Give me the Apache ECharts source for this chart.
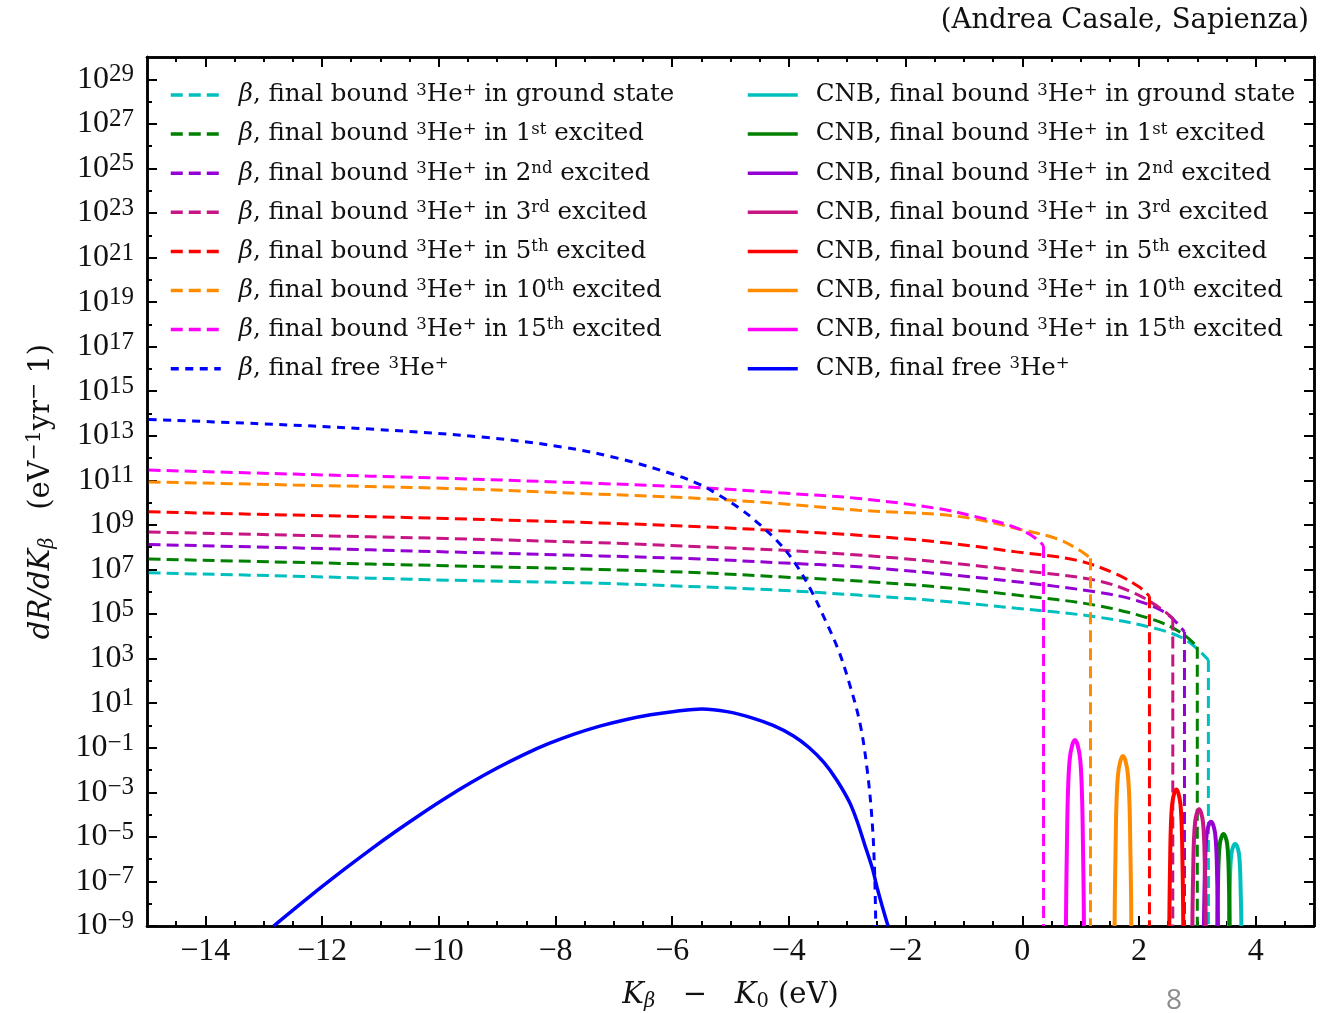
<!DOCTYPE html>
<html>
<head>
<meta charset="utf-8">
<script src="https://cdn.jsdelivr.net/npm/echarts@6/dist/echarts.min.js"></script>
<style>
  html, body { margin: 0; padding: 0; background: #ffffff; }
  #chart { width: 1327px; height: 1013px; }
</style>
</head>
<body>
<div id="chart"></div>
<script>
// x: K_beta - K_0 (eV); y: log10 of dR/dK_beta (eV^-1 yr^-1)

// --- beta decay into bound 3He+ final states ---
const betaGroundK   = [-14.97, -12.48, -9.86, -7.24, -5.51, -4.16, -2.81, -1.46, -0.10, 1.25, 2.27, 2.81, 3.19];
const betaGroundLog = [6.85, 6.70, 6.52, 6.38, 6.22, 6.07, 5.85, 5.60, 5.26, 4.88, 4.36, 3.83, 2.94];

const betaExc1K   = [-14.97, -12.48, -9.86, -7.24, -5.51, -4.16, -2.81, -1.46, -0.10, 1.25, 2.27, 2.74, 3.00];
const betaExc1Log = [7.47, 7.32, 7.17, 7.00, 6.85, 6.67, 6.48, 6.22, 5.85, 5.40, 4.73, 4.13, 3.53];

const betaExc2K   = [-14.97, -12.48, -9.86, -7.24, -5.51, -4.16, -2.81, -1.46, -0.10, 1.25, 1.93, 2.47, 2.78];
const betaExc2Log = [8.12, 7.97, 7.79, 7.61, 7.47, 7.30, 7.12, 6.82, 6.45, 6.00, 5.63, 5.03, 4.20];

const betaExc3K   = [-14.97, -12.48, -9.86, -7.24, -5.51, -4.16, -2.81, -1.46, -0.10, 1.25, 1.93, 2.41, 2.58];
const betaExc3Log = [8.68, 8.54, 8.39, 8.20, 8.02, 7.87, 7.65, 7.35, 6.97, 6.52, 5.93, 5.18, 4.80];

const betaExc5K   = [-14.97, -12.48, -9.86, -7.24, -5.51, -4.16, -2.81, -1.46, -0.10, 0.92, 1.59, 2.00, 2.18];
const betaExc5Log = [9.59, 9.44, 9.29, 9.09, 8.92, 8.74, 8.54, 8.24, 7.79, 7.42, 6.82, 6.22, 5.80];

const betaExc10K   = [-14.97, -12.48, -9.86, -7.24, -5.51, -4.16, -2.81, -1.46, -0.78, -0.10, 0.58, 0.98, 1.17];
const betaExc10Log = [10.93, 10.79, 10.64, 10.38, 10.19, 9.96, 9.66, 9.48, 9.25, 8.84, 8.39, 7.87, 7.50];

const betaExc15K   = [-14.97, -12.48, -9.86, -7.24, -5.51, -4.16, -2.81, -1.46, -0.78, -0.23, 0.10, 0.30, 0.365];
const betaExc15Log = [11.46, 11.28, 11.09, 10.86, 10.67, 10.44, 10.19, 9.74, 9.36, 8.99, 8.62, 8.25, 8.05];

// --- beta decay into free 3He+ ---
const betaFreeK   = [-14.97, -13.14, -11.17, -9.21, -7.89, -6.91, -5.93, -5.51, -5.27, -4.84, -4.50, -4.16, -3.89, -3.62, -3.35, -3.15, -2.98, -2.78, -2.65, -2.57, -2.53, -2.51];
const betaFreeLog = [13.73, 13.55, 13.30, 12.93, 12.50, 11.98, 11.23, 10.80, 10.45, 9.74, 9.02, 8.17, 7.27, 6.07, 4.58, 3.38, 2.04, 0.09, -2.15, -4.40, -6.60, -9.00];

// --- neutrino capture (CNB) into free 3He+ ---
const cnbFreeK = [-12.83, -12.22, -11.61, -11.17, -10.74, -10.30, -9.86, -9.43, -8.99, -8.55, -8.12,
                  -7.68, -7.24, -6.80, -6.37, -5.93, -5.49, -5.06, -4.62, -4.27, -3.92, -3.66, -3.40,
                  -3.18, -2.96, -2.83, -2.70, -2.57, -2.48, -2.39, -2.30];
const cnbFreeLog = [-9.00, -7.69, -6.44, -5.57, -4.76, -3.97, -3.22, -2.54, -1.90, -1.32, -0.82,
                    -0.39, -0.03, 0.26, 0.48, 0.64, 0.74, 0.62, 0.33, 0.00, -0.47, -0.98, -1.66,
                    -2.45, -3.45, -4.30, -5.35, -6.40, -7.35, -8.20, -9.00];

// --- neutrino capture (CNB) peaks into bound 3He+ final states ---
const cnbExc15K   = [0.749, 0.754, 0.766, 0.783, 0.812, 0.857, 0.903, 0.949, 0.994, 1.023, 1.040, 1.052, 1.057];
const cnbExc15Log = [-9.00, -7.54, -5.29, -3.05, -1.55, -0.88, -0.65, -0.88, -1.55, -3.05, -5.29, -7.54, -9.00];

const cnbExc10K   = [1.583, 1.587, 1.599, 1.614, 1.642, 1.683, 1.726, 1.769, 1.810, 1.838, 1.853, 1.865, 1.869];
const cnbExc10Log = [-9.00, -7.66, -5.61, -3.56, -2.19, -1.58, -1.37, -1.58, -2.19, -3.56, -5.61, -7.66, -9.00];

const cnbExc5K   = [2.520, 2.524, 2.533, 2.546, 2.569, 2.604, 2.640, 2.676, 2.711, 2.734, 2.747, 2.756, 2.760];
const cnbExc5Log = [-9.00, -7.93, -6.28, -4.63, -3.53, -3.04, -2.87, -3.04, -3.53, -4.63, -6.28, -7.93, -9.00];

const cnbExc3K   = [2.916, 2.919, 2.929, 2.941, 2.963, 2.996, 3.030, 3.064, 3.097, 3.119, 3.131, 3.141, 3.144];
const cnbExc3Log = [-9.00, -8.08, -6.67, -5.26, -4.33, -3.91, -3.76, -3.91, -4.33, -5.26, -6.67, -8.08, -9.00];

const cnbExc2K   = [3.114, 3.118, 3.127, 3.140, 3.163, 3.198, 3.234, 3.270, 3.305, 3.328, 3.341, 3.350, 3.354];
const cnbExc2Log = [-9.00, -8.18, -6.92, -5.66, -4.83, -4.45, -4.32, -4.45, -4.83, -5.66, -6.92, -8.18, -9.00];

const cnbExc1K   = [3.343, 3.346, 3.355, 3.366, 3.386, 3.417, 3.449, 3.481, 3.512, 3.532, 3.543, 3.552, 3.555];
const cnbExc1Log = [-9.00, -8.28, -7.17, -6.06, -5.32, -4.99, -4.87, -4.99, -5.32, -6.06, -7.17, -8.28, -9.00];

const cnbGroundK   = [3.543, 3.546, 3.555, 3.566, 3.586, 3.617, 3.649, 3.681, 3.712, 3.732, 3.743, 3.752, 3.755];
const cnbGroundLog = [-9.00, -8.36, -7.37, -6.38, -5.72, -5.42, -5.32, -5.42, -5.72, -6.38, -7.37, -8.36, -9.00];

// axis range and tick labels
const xMin = -15, xMax = 5;
const yMin = -9, yMax = 30;          // decades
const xLabelTicks = [-14, -12, -10, -8, -6, -4, -2, 0, 2, 4];
const yLabelTicks = [-9, -7, -5, -3, -1, 1, 3, 5, 7, 9, 11, 13, 15, 17, 19, 21, 23, 25, 27, 29];

// final-state labels, in legend order
const states = ['ground', '1st', '2nd', '3rd', '5th', '10th', '15th'];

// ---------------------------------------------------------------
const COLORS = {
  ground: '#00bfbf', '1st': '#008000', '2nd': '#9400d3', '3rd': '#c71585',
  '5th': '#ff0000', '10th': '#ff8c00', '15th': '#ff00ff', free: '#0000ff'
};

const xMinorTicks = [];
for (let v = xMin + 0.5; v < xMax; v += 0.5) if (xLabelTicks.indexOf(v) < 0) xMinorTicks.push(v);
const yMinorTicks = [];
for (let v = yMin + 1; v < yMax; v += 2) yMinorTicks.push(v);

function zip(ks, ls) { return ks.map((k, i) => [k, ls[i]]); }

const betaSets = {
  ground: [betaGroundK, betaGroundLog], '1st': [betaExc1K, betaExc1Log], '2nd': [betaExc2K, betaExc2Log],
  '3rd': [betaExc3K, betaExc3Log], '5th': [betaExc5K, betaExc5Log], '10th': [betaExc10K, betaExc10Log],
  '15th': [betaExc15K, betaExc15Log]
};
const cnbSets = {
  ground: [cnbGroundK, cnbGroundLog], '1st': [cnbExc1K, cnbExc1Log], '2nd': [cnbExc2K, cnbExc2Log],
  '3rd': [cnbExc3K, cnbExc3Log], '5th': [cnbExc5K, cnbExc5Log], '10th': [cnbExc10K, cnbExc10Log],
  '15th': [cnbExc15K, cnbExc15Log]
};

function stateText(s) { return s === 'ground' ? 'in ground state' : 'in ' + s + ' excited'; }
function betaName(s) { return 'β, final bound 3He+ ' + stateText(s); }
function cnbName(s) { return 'CNB, final bound 3He+ ' + stateText(s); }
const betaFreeName = 'β, final free 3He+';
const cnbFreeName = 'CNB, final free 3He+';

function stateRich(s) {
  if (s === 'ground') return '{t| in ground state}';
  const num = s.match(/\d+/)[0], suf = s.replace(num, '');
  return '{t| in ' + num + '}{s|' + suf + '}{t| excited}';
}
const richNames = {};
states.forEach(s => {
  richNames[betaName(s)] = '{g| }{i|β}{t|, final bound }{s|3}{t|He}{s|+}' + stateRich(s);
  richNames[cnbName(s)] = '{g| }{t|CNB, final bound }{s|3}{t|He}{s|+}' + stateRich(s);
});
richNames[betaFreeName] = '{g| }{i|β}{t|, final free }{s|3}{t|He}{s|+}';
richNames[cnbFreeName] = '{g| }{t|CNB, final free }{s|3}{t|He}{s|+}';

const BETA_DASH = [12, 6];
const FREE_DASH = [8, 6.5];
const series = [];

states.forEach(s => {
  const [ks, ls] = betaSets[s];
  const style = { color: COLORS[s], width: 3, type: BETA_DASH };
  series.push({
    name: betaName(s), type: 'line', data: zip(ks, ls), symbol: 'none', smooth: 0.35,
    lineStyle: style, itemStyle: { color: COLORS[s] }, z: 3
  });
  // cut-off of the spectrum at the end point
  const kEnd = ks[ks.length - 1];
  series.push({
    name: betaName(s), type: 'line', data: [[kEnd, ls[ls.length - 1]], [kEnd, yMin]], symbol: 'none',
    lineStyle: style, itemStyle: { color: COLORS[s] }, z: 3
  });
});
series.push({
  name: betaFreeName, type: 'line', data: zip(betaFreeK, betaFreeLog), symbol: 'none', smooth: 0.35,
  lineStyle: { color: COLORS.free, width: 3, type: FREE_DASH }, itemStyle: { color: COLORS.free }, z: 3
});
states.forEach(s => {
  const [ks, ls] = cnbSets[s];
  series.push({
    name: cnbName(s), type: 'line', data: zip(ks, ls), symbol: 'none', smooth: 0.4,
    lineStyle: { color: COLORS[s], width: 4 }, itemStyle: { color: COLORS[s] }, z: 4
  });
});
series.push({
  name: cnbFreeName, type: 'line', data: zip(cnbFreeK, cnbFreeLog), symbol: 'none', smooth: 0.3,
  lineStyle: { color: COLORS.free, width: 3.5 }, itemStyle: { color: COLORS.free }, z: 4
});

const SERIF = 'Liberation Serif';
const WIDE_SERIF = 'DejaVu Serif';
const legendRich = {
  g: { width: 13, fontSize: 10 },
  t: { fontFamily: WIDE_SERIF, fontSize: 24.5, color: '#111', lineHeight: 26 },
  i: { fontFamily: WIDE_SERIF, fontSize: 24.5, fontStyle: 'italic', color: '#111', lineHeight: 26 },
  s: { fontFamily: WIDE_SERIF, fontSize: 16.5, color: '#111', verticalAlign: 'top', lineHeight: 16 }
};
function legendBlock(names, left) {
  return {
    data: names, left: left, top: 82, orient: 'vertical', padding: 0,
    itemWidth: 50, itemHeight: 14, itemGap: 13.6, selectedMode: false,
    itemStyle: { opacity: 0 },
    lineStyle: { width: 3.5 },
    formatter: n => richNames[n],
    textStyle: { rich: legendRich }
  };
}

const axisLine = { show: true, onZero: false, lineStyle: { color: '#000', width: 2.5 } };
const longTick = { show: true, inside: true, length: 10, lineStyle: { color: '#000', width: 2 } };
const shortTick = { show: true, inside: true, length: 5, lineStyle: { color: '#000', width: 2 } };
const minus = v => (v < 0 ? '−' + Math.abs(v) : String(v));

function xAx(pos, ticks, long, labels) {
  return {
    type: 'value', min: xMin, max: xMax, position: pos, splitLine: { show: false },
    axisLine: axisLine,
    axisTick: Object.assign({}, long ? longTick : shortTick, { customValues: ticks }),
    axisLabel: labels ? {
      customValues: ticks, formatter: v => minus(v), margin: 10,
      fontFamily: SERIF, fontSize: 32, color: '#111'
    } : { show: false }
  };
}
function yAx(pos, ticks, long, labels) {
  return {
    type: 'value', min: yMin, max: yMax, position: pos, splitLine: { show: false },
    axisLine: axisLine,
    axisTick: Object.assign({}, long ? longTick : shortTick, { customValues: ticks }),
    axisLabel: labels ? {
      customValues: ticks, margin: 13, formatter: v => '{b|10}{s|' + minus(v) + '}',
      rich: {
        b: { fontFamily: SERIF, fontSize: 32, color: '#111', lineHeight: 34 },
        s: { fontFamily: SERIF, fontSize: 25, color: '#111', verticalAlign: 'top', lineHeight: 22 }
      }
    } : { show: false }
  };
}

const titleRich = {
  k: { fontFamily: WIDE_SERIF, fontSize: 29, fontStyle: 'italic', color: '#111', lineHeight: 34 },
  t: { fontFamily: WIDE_SERIF, fontSize: 29, color: '#111', lineHeight: 34 },
  u: { fontFamily: WIDE_SERIF, fontSize: 19.5, fontStyle: 'italic', color: '#111', verticalAlign: 'bottom', lineHeight: 24 },
  n: { fontFamily: WIDE_SERIF, fontSize: 19.5, color: '#111', verticalAlign: 'bottom', lineHeight: 24 },
  s: { fontFamily: WIDE_SERIF, fontSize: 20.5, color: '#111', verticalAlign: 'top', lineHeight: 20 }
};

const xAxes = [xAx('bottom', xLabelTicks, true, true), xAx('bottom', xMinorTicks, false, false),
               xAx('top', xLabelTicks, true, false), xAx('top', xMinorTicks, false, false)];
Object.assign(xAxes[0], {
  name: '{k|K}{u|β}{t|   −   }{k|K}{n|0}{t| (eV)}', nameLocation: 'middle', nameGap: 52,
  nameTextStyle: { rich: titleRich }
});
const yAxes = [yAx('left', yLabelTicks, true, true), yAx('left', yMinorTicks, false, false),
               yAx('right', yLabelTicks, true, false), yAx('right', yMinorTicks, false, false)];
Object.assign(yAxes[0], {
  name: '{k|dR/dK}{u|β}{t|   (eV}{s|−1}{t|yr}{s|−}{t| 1)}', nameLocation: 'middle', nameGap: 89, nameRotate: 90,
  nameTextStyle: { rich: titleRich }
});

const chart = echarts.init(document.getElementById('chart'), null, { renderer: 'canvas' });
chart.setOption({
  backgroundColor: '#ffffff',
  animation: false,
  title: [
    { text: '(Andrea Casale, Sapienza)', right: 13, top: 2,
      textStyle: { fontFamily: 'DejaVu Serif', fontSize: 27.5, fontWeight: 'normal', color: '#111' } },
    { text: '8', left: 1161, top: 982,
      textStyle: { fontFamily: 'Open Sans', fontSize: 28, fontWeight: 'normal', color: '#8c8c8c' } }
  ],
  grid: { left: 147, right: 13, top: 57, bottom: 87, containLabel: false, outerBoundsMode: 'none' },
  legend: [
    legendBlock(states.map(betaName).concat([betaFreeName]), 169),
    legendBlock(states.map(cnbName).concat([cnbFreeName]), 746)
  ],
  xAxis: xAxes,
  yAxis: yAxes,
  series: series
});
</script>
</body>
</html>
